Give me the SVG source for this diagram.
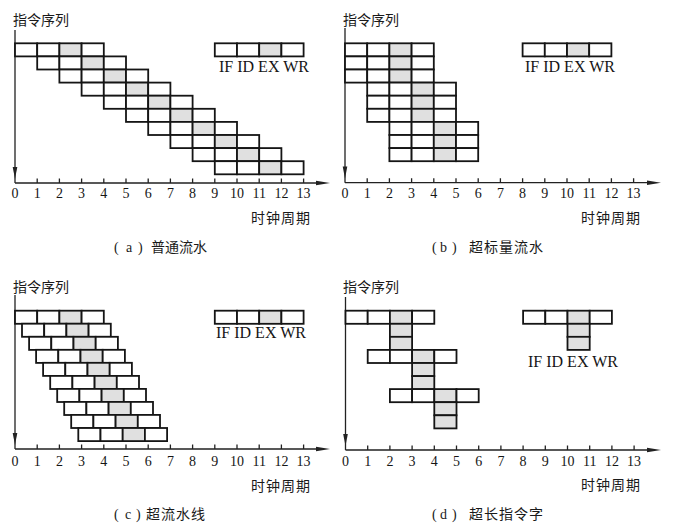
<svg xmlns="http://www.w3.org/2000/svg" xmlns:xlink="http://www.w3.org/1999/xlink" width="692" height="528" viewBox="0 0 692 528">
<style>
.c{fill:#fff;stroke:#151515;stroke-width:1.8}
.ex{fill:#e0e0e0}
.ax{fill:none;stroke:#222;stroke-width:1.3}
.ah{fill:#222}
.n{font-family:"Liberation Serif",serif;font-size:14px;fill:#151515;text-anchor:middle}
.lg{font-family:"Liberation Serif",serif;font-size:16px;fill:#151515}
.cj{font-family:"Noto Sans CJK SC","Noto Sans",sans-serif;font-size:14px;fill:#1a1a1a}
.cp{font-family:"Liberation Serif","Noto Sans CJK SC",serif;font-size:14px;fill:#1a1a1a}
</style>
<defs>
<g id="row">
<rect class="c" x="0" y="0" width="22.2" height="13.1"/>
<rect class="c" x="22.2" y="0" width="22.2" height="13.1"/>
<rect class="c ex" x="44.4" y="0" width="22.2" height="13.1"/>
<rect class="c" x="66.6" y="0" width="22.2" height="13.1"/>
</g>
<rect id="exc" class="c ex" x="0" y="0" width="22.2" height="13.1"/>
<path id="ahD" d="M0,0 L-2.3,-12 L2.3,-12 Z"/>
<path id="ahR" d="M0,0 L-14,-2.3 L-14,2.3 Z"/>
</defs>

<!-- connectors: axes -->
<g id="connectors">
<path class="ax" d="M15 30 V183 M15 183 H320 M345 28 V182.7 M345 182.7 H650 M15 295 V449 M15 449 H320 M345.5 297 V450 M345.5 450 H650"/>
<path class="ax" d="M37.2 183v-4.5M59.4 183v-4.5M81.6 183v-4.5M103.8 183v-4.5M126 183v-4.5M148.2 183v-4.5M170.4 183v-4.5M192.6 183v-4.5M214.8 183v-4.5M237 183v-4.5M259.2 183v-4.5M281.4 183v-4.5M303.6 183v-4.5"/>
<path class="ax" d="M367.2 182.7v-4.5M389.4 182.7v-4.5M411.6 182.7v-4.5M433.8 182.7v-4.5M456 182.7v-4.5M478.2 182.7v-4.5M500.4 182.7v-4.5M522.6 182.7v-4.5M544.8 182.7v-4.5M567 182.7v-4.5M589.2 182.7v-4.5M611.4 182.7v-4.5M633.6 182.7v-4.5"/>
<path class="ax" d="M37.2 449v-4.5M59.4 449v-4.5M81.6 449v-4.5M103.8 449v-4.5M126 449v-4.5M148.2 449v-4.5M170.4 449v-4.5M192.6 449v-4.5M214.8 449v-4.5M237 449v-4.5M259.2 449v-4.5M281.4 449v-4.5M303.6 449v-4.5"/>
<path class="ax" d="M367.7 450v-4.5M389.9 450v-4.5M412.1 450v-4.5M434.3 450v-4.5M456.5 450v-4.5M478.7 450v-4.5M500.9 450v-4.5M523.1 450v-4.5M545.3 450v-4.5M567.5 450v-4.5M589.7 450v-4.5M611.9 450v-4.5M634.1 450v-4.5"/>
<use href="#ahD" class="ah" x="15" y="179"/>
<use href="#ahR" class="ah" x="330" y="183"/>
<use href="#ahD" class="ah" x="345" y="178.5"/>
<use href="#ahR" class="ah" x="661" y="182.7"/>
<use href="#ahD" class="ah" x="15" y="445"/>
<use href="#ahR" class="ah" x="330" y="449"/>
<use href="#ahD" class="ah" x="345.5" y="446"/>
<use href="#ahR" class="ah" x="661" y="450"/>
</g>

<!-- Panel (a) -->
<g id="a-labels">
<text class="cj" x="13" y="25">指令序列</text>
<text class="cj" x="251" y="223" letter-spacing="1">时钟周期</text>
<text class="cp" y="252"><tspan x="114">(</tspan><tspan x="126">a</tspan><tspan x="138">)</tspan><tspan x="151" font-family="Noto Sans CJK SC, sans-serif">普通流水</tspan></text>
<text class="n" x="15" y="198">0</text><text class="n" x="37.2" y="198">1</text><text class="n" x="59.4" y="198">2</text><text class="n" x="81.6" y="198">3</text><text class="n" x="103.8" y="198">4</text><text class="n" x="126" y="198">5</text><text class="n" x="148.2" y="198">6</text><text class="n" x="170.4" y="198">7</text><text class="n" x="192.6" y="198">8</text><text class="n" x="214.8" y="198">9</text><text class="n" x="237" y="198">10</text><text class="n" x="259.2" y="198">11</text><text class="n" x="281.4" y="198">12</text><text class="n" x="303.6" y="198">13</text>
</g>
<g id="a-legend"><use href="#row" x="214.8" y="43.3"/><text class="lg" x="219" y="71.5">IF ID EX WR</text></g>
<g id="a-i1"><use href="#row" x="15" y="43.3"/></g>
<g id="a-i2"><use href="#row" x="37.2" y="56.4"/></g>
<g id="a-i3"><use href="#row" x="59.4" y="69.5"/></g>
<g id="a-i4"><use href="#row" x="81.6" y="82.6"/></g>
<g id="a-i5"><use href="#row" x="103.8" y="95.7"/></g>
<g id="a-i6"><use href="#row" x="126" y="108.8"/></g>
<g id="a-i7"><use href="#row" x="148.2" y="121.9"/></g>
<g id="a-i8"><use href="#row" x="170.4" y="135"/></g>
<g id="a-i9"><use href="#row" x="192.6" y="148.1"/></g>
<g id="a-i10"><use href="#row" x="214.8" y="161.2"/></g>

<!-- Panel (b) -->
<g id="b-labels">
<text class="cj" x="343" y="25">指令序列</text>
<text class="cj" x="581" y="223" letter-spacing="1">时钟周期</text>
<text class="cp" y="252"><tspan x="432">(</tspan><tspan x="440">b</tspan><tspan x="452">)</tspan><tspan x="469" font-family="Noto Sans CJK SC, sans-serif" letter-spacing="1">超标量流水</tspan></text>
<text class="n" x="345" y="198">0</text><text class="n" x="367.2" y="198">1</text><text class="n" x="389.4" y="198">2</text><text class="n" x="411.6" y="198">3</text><text class="n" x="433.8" y="198">4</text><text class="n" x="456" y="198">5</text><text class="n" x="478.2" y="198">6</text><text class="n" x="500.4" y="198">7</text><text class="n" x="522.6" y="198">8</text><text class="n" x="544.8" y="198">9</text><text class="n" x="567" y="198">10</text><text class="n" x="589.2" y="198">11</text><text class="n" x="611.4" y="198">12</text><text class="n" x="633.6" y="198">13</text>
</g>
<g id="b-legend"><use href="#row" x="522.6" y="43.3"/><text class="lg" x="525" y="71.5">IF ID EX WR</text></g>
<g id="b-i1"><use href="#row" x="345" y="43.3"/></g>
<g id="b-i2"><use href="#row" x="345" y="56.4"/></g>
<g id="b-i3"><use href="#row" x="345" y="69.5"/></g>
<g id="b-i4"><use href="#row" x="367.2" y="82.6"/></g>
<g id="b-i5"><use href="#row" x="367.2" y="95.7"/></g>
<g id="b-i6"><use href="#row" x="367.2" y="108.8"/></g>
<g id="b-i7"><use href="#row" x="389.4" y="121.9"/></g>
<g id="b-i8"><use href="#row" x="389.4" y="135"/></g>
<g id="b-i9"><use href="#row" x="389.4" y="148.1"/></g>

<!-- Panel (c) -->
<g id="c-labels">
<text class="cj" x="13" y="292">指令序列</text>
<text class="cj" x="251" y="491" letter-spacing="1">时钟周期</text>
<text class="cp" y="519"><tspan x="114">(</tspan><tspan x="125">c</tspan><tspan x="136">)</tspan><tspan x="146" font-family="Noto Sans CJK SC, sans-serif" letter-spacing="1">超流水线</tspan></text>
<text class="n" x="15" y="465.5">0</text><text class="n" x="37.2" y="465.5">1</text><text class="n" x="59.4" y="465.5">2</text><text class="n" x="81.6" y="465.5">3</text><text class="n" x="103.8" y="465.5">4</text><text class="n" x="126" y="465.5">5</text><text class="n" x="148.2" y="465.5">6</text><text class="n" x="170.4" y="465.5">7</text><text class="n" x="192.6" y="465.5">8</text><text class="n" x="214.8" y="465.5">9</text><text class="n" x="237" y="465.5">10</text><text class="n" x="259.2" y="465.5">11</text><text class="n" x="281.4" y="465.5">12</text><text class="n" x="303.6" y="465.5">13</text>
</g>
<g id="c-legend"><use href="#row" x="214.8" y="310.7"/><text class="lg" x="216" y="338">IF ID EX WR</text></g>
<g id="c-i1"><use href="#row" x="15" y="310.7"/></g>
<g id="c-i2"><use href="#row" x="22" y="323.7"/></g>
<g id="c-i3"><use href="#row" x="29.1" y="336.8"/></g>
<g id="c-i4"><use href="#row" x="36.1" y="349.8"/></g>
<g id="c-i5"><use href="#row" x="43.1" y="362.8"/></g>
<g id="c-i6"><use href="#row" x="50.2" y="375.9"/></g>
<g id="c-i7"><use href="#row" x="57.2" y="388.9"/></g>
<g id="c-i8"><use href="#row" x="64.2" y="401.9"/></g>
<g id="c-i9"><use href="#row" x="71.2" y="414.9"/></g>
<g id="c-i10"><use href="#row" x="78.3" y="428"/></g>

<!-- Panel (d) -->
<g id="d-labels">
<text class="cj" x="343" y="292">指令序列</text>
<text class="cj" x="581" y="490" letter-spacing="1">时钟周期</text>
<text class="cp" y="519"><tspan x="432">(</tspan><tspan x="440">d</tspan><tspan x="452">)</tspan><tspan x="469" font-family="Noto Sans CJK SC, sans-serif" letter-spacing="1">超长指令字</tspan></text>
<text class="n" x="345.5" y="466">0</text><text class="n" x="367.7" y="466">1</text><text class="n" x="389.9" y="466">2</text><text class="n" x="412.1" y="466">3</text><text class="n" x="434.3" y="466">4</text><text class="n" x="456.5" y="466">5</text><text class="n" x="478.7" y="466">6</text><text class="n" x="500.9" y="466">7</text><text class="n" x="523.1" y="466">8</text><text class="n" x="545.3" y="466">9</text><text class="n" x="567.5" y="466">10</text><text class="n" x="589.7" y="466">11</text><text class="n" x="611.9" y="466">12</text><text class="n" x="634.1" y="466">13</text>
</g>
<g id="d-legend">
<use href="#row" x="523.1" y="310.7"/>
<use href="#exc" x="567.5" y="323.8"/>
<use href="#exc" x="567.5" y="336.8"/>
<text class="lg" x="528" y="366.5">IF ID EX WR</text>
</g>
<g id="d-w1">
<use href="#row" x="345.5" y="310.7"/>
<use href="#exc" x="389.9" y="323.8"/>
<use href="#exc" x="389.9" y="336.8"/>
</g>
<g id="d-w2">
<use href="#row" x="367.7" y="349.9"/>
<use href="#exc" x="412.1" y="363"/>
<use href="#exc" x="412.1" y="376.1"/>
</g>
<g id="d-w3">
<use href="#row" x="389.9" y="389.1"/>
<use href="#exc" x="434.3" y="402.2"/>
<use href="#exc" x="434.3" y="415.3"/>
</g>
</svg>
